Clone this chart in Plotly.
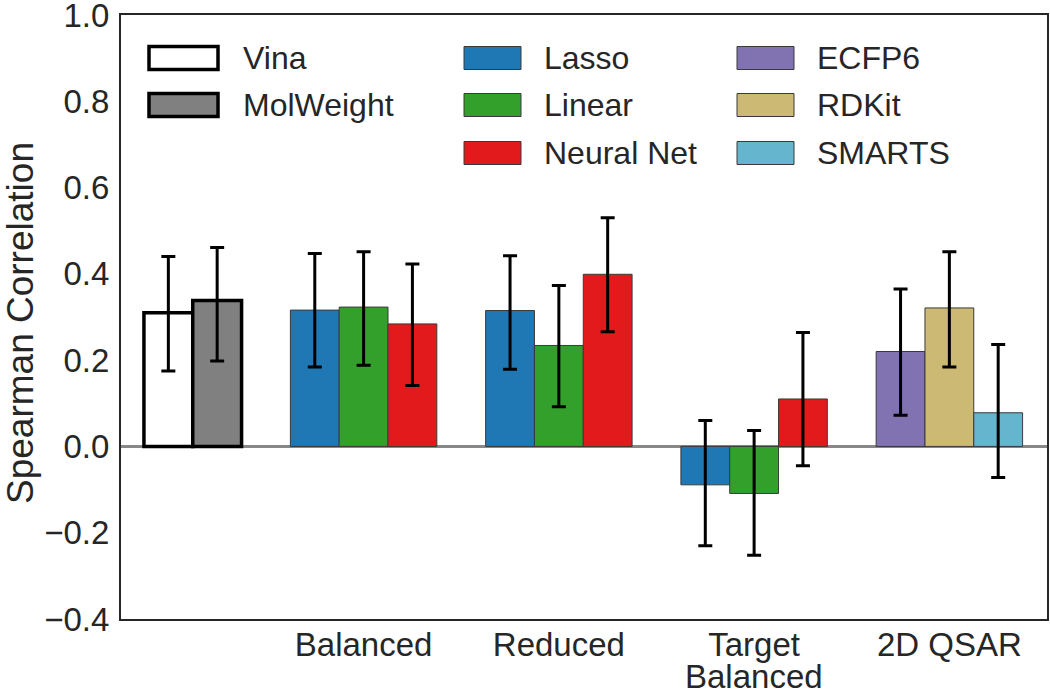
import plotly.graph_objects as go

# ---------------- data ----------------
group_labels = ["", "Balanced", "Reduced", "Target<br>Balanced", "2D QSAR"]

baseline_names = ["Vina", "MolWeight"]
baseline_vals = [0.310, 0.338]
baseline_err_hi = [0.130, 0.123]
baseline_err_lo = [0.135, 0.140]

model_names = ["Lasso", "Linear", "Neural Net"]
model_groups = ["Balanced", "Reduced", "Target<br>Balanced"]
model_vals = {
    "Lasso":      [0.316, 0.315, -0.089],
    "Linear":     [0.323, 0.234, -0.109],
    "Neural Net": [0.284, 0.399, 0.110],
}
model_err_hi = {
    "Lasso":      [0.131, 0.127, 0.149],
    "Linear":     [0.128, 0.139, 0.146],
    "Neural Net": [0.139, 0.131, 0.154],
}
model_err_lo = {
    "Lasso":      [0.132, 0.136, 0.141],
    "Linear":     [0.135, 0.142, 0.143],
    "Neural Net": [0.143, 0.133, 0.155],
}

qsar_names = ["ECFP6", "RDKit", "SMARTS"]
qsar_vals = [0.220, 0.321, 0.078]
qsar_err_hi = [0.145, 0.130, 0.158]
qsar_err_lo = [0.148, 0.137, 0.150]

yticks = [-0.4, -0.2, 0.0, 0.2, 0.4, 0.6, 0.8, 1.0]
y_title = "Spearman Correlation"

# ---------------- styles ----------------
colors = {
    "Vina": "#ffffff", "MolWeight": "#808080",
    "Lasso": "#1f78b4", "Linear": "#33a02c", "Neural Net": "#e31a1c",
    "ECFP6": "#8172b2", "RDKit": "#ccb974", "SMARTS": "#64b5cd",
}
FONT = "Liberation Sans, Arial, sans-serif"
TXT = "#262626"

W, H = 1050, 691
L, R, T = 121, 3, 15
PH = 604
B = H - T - PH

def slot_center(group_idx, k):
    # group 0 (baselines) starts at slot 0; others start at 3 + 4*(g-1)
    start = 0 if group_idx == 0 else 3 + 4 * (group_idx - 1)
    return start + k + 0.5

fig = go.Figure()

def err(hi, lo):
    return dict(type="data", symmetric=False, array=hi, arrayminus=lo,
                color="black", thickness=3, width=7)

# baselines
for k, name in enumerate(baseline_names):
    fig.add_trace(go.Bar(
        x=[slot_center(0, k)], y=[baseline_vals[k]], width=1.0, name=name,
        marker=dict(color=colors[name], line=dict(color="black", width=3.5)),
        error_y=err([baseline_err_hi[k]], [baseline_err_lo[k]]),
        showlegend=False))

# models
for k, name in enumerate(model_names):
    xs = [slot_center(g + 1, k) for g in range(len(model_groups))]
    fig.add_trace(go.Bar(
        x=xs, y=model_vals[name], width=1.0, name=name,
        marker=dict(color=colors[name], line=dict(color="#3a3a3a", width=1)),
        error_y=err(model_err_hi[name], model_err_lo[name]),
        showlegend=False))

# 2D QSAR
for k, name in enumerate(qsar_names):
    fig.add_trace(go.Bar(
        x=[slot_center(4, k)], y=[qsar_vals[k]], width=1.0, name=name,
        marker=dict(color=colors[name], line=dict(color="#3a3a3a", width=1)),
        error_y=err([qsar_err_hi[k]], [qsar_err_lo[k]]),
        showlegend=False))

tickvals = [slot_center(g, 1) for g in range(1, len(group_labels))]
first_lines = [lbl.split("<br>")[0] for lbl in group_labels[1:]]

fig.update_layout(
    width=W, height=H,
    margin=dict(l=L, r=R, t=T, b=B),
    plot_bgcolor="white", paper_bgcolor="white",
    font=dict(family=FONT, size=33, color=TXT),
    barmode="overlay",
    xaxis=dict(range=[-0.47, 18.5], tickvals=tickvals, ticktext=first_lines,
               showgrid=False, zeroline=False, showline=True, mirror=True,
               linecolor="#262626", linewidth=2, ticks="", ticklen=0,
               ticklabelstandoff=-5, automargin=False),
    yaxis=dict(range=[-0.4, 1.0], tickvals=yticks,
               ticktext=[("\u2212" if v < 0 else "") + f"{abs(v):.1f}" for v in yticks],
               showgrid=False, zeroline=True, zerolinecolor="#888888", zerolinewidth=3,
               showline=True, mirror=True, linecolor="#262626", linewidth=2,
               ticks="", ticklen=0, ticklabelstandoff=3, automargin=False,
               ticklabeloverflow="allow"),
)

def px2paper_x(px):
    return (px - L) / (W - L - R)

def px2paper_y(py):
    return (T + PH - py) / PH

# y-axis title (rotated)
fig.add_annotation(xref="paper", yref="paper", x=px2paper_x(21), y=px2paper_y(323),
                   text=y_title, textangle=-90, showarrow=False,
                   xanchor="center", yanchor="middle",
                   font=dict(size=37, color=TXT, family=FONT))

# continuation lines of multi-line group labels (tight matplotlib-like spacing)
for tv, lbl in zip(tickvals, group_labels[1:]):
    extra = lbl.split("<br>")[1:]
    for j, line in enumerate(extra):
        fig.add_annotation(xref="x", yref="paper", x=tv, y=-(1 + j) * 36 / PH,
                           yshift=-1, text=line, showarrow=False,
                           xanchor="center", yanchor="top",
                           font=dict(size=33, color=TXT, family=FONT))

# ---------------- legend (drawn as swatches + labels in paper coords) ----------------
legend_cols = [
    (baseline_names, 149, 218, 241, 3.5),
    (model_names, 464, 521, 542, 1),
    (qsar_names, 737, 794, 815, 1),
]
row_centers = [58, 105, 153]
for names, x0, x1, tx, lw in legend_cols:
    for r, name in enumerate(names):
        yc = row_centers[r]
        fig.add_shape(type="rect", xref="paper", yref="paper",
                      x0=px2paper_x(x0), x1=px2paper_x(x1),
                      y0=px2paper_y(yc + 11.5), y1=px2paper_y(yc - 11.5),
                      fillcolor=colors[name],
                      line=dict(color="black" if lw > 2 else "#3a3a3a", width=lw))
        fig.add_annotation(xref="paper", yref="paper", x=px2paper_x(tx), y=px2paper_y(yc),
                           text=name, showarrow=False, xanchor="left", yanchor="middle",
                           font=dict(size=32, color=TXT, family=FONT))

# remove the browser's default 8px body margin so the figure fills the window
fig.write_html("out.html", config={"displayModeBar": False},
               post_script="document.body.style.margin='0';")
